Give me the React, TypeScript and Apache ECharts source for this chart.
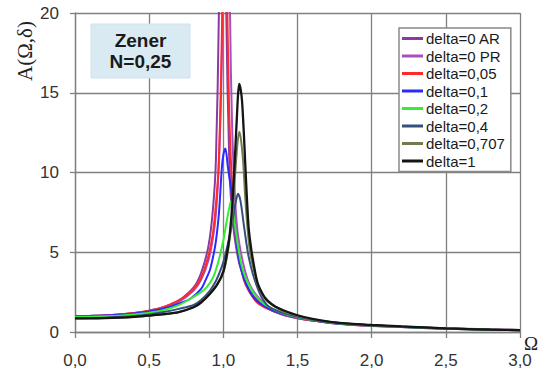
import React, { useEffect, useRef } from "react";
import * as echarts from "echarts";

const legendNames = [
  "delta=0 AR",
  "delta=0 PR",
  "delta=0,05",
  "delta=0,1",
  "delta=0,2",
  "delta=0,4",
  "delta=0,707",
  "delta=1",
];
const colors = ["#8a3aa0", "#a94fc4", "#ff2a2a", "#2a2aff", "#33ee33", "#34507c", "#6f7d4c", "#151515"];

const xTicks = [0, 0.5, 1, 1.5, 2, 2.5, 3];
const yTicks = [0, 5, 10, 15, 20];

const delta0AR: [number, number][] = [
  [0, 1.0], [0.2, 1.04], [0.4, 1.19], [0.5, 1.34], [0.6, 1.57], [0.7, 1.98], [0.8, 2.8], [0.85, 3.7],
  [0.9, 5.4], [0.93, 7.7], [0.95, 10.8], [0.97, 20], [0.98, 33], [0.99, 60], [1.0, 60], [1.01, 34],
  [1.02, 20], [1.04, 10.8], [1.06, 7.3], [1.1, 4.6], [1.15, 3.1], [1.2, 2.3], [1.3, 1.5], [1.4, 1.08],
  [1.5, 0.86], [1.6, 0.72], [1.8, 0.52], [2.0, 0.41], [2.5, 0.22], [3.0, 0.12],
];
const delta0PR: [number, number][] = [
  [0, 1.0], [0.2, 1.04], [0.4, 1.18], [0.5, 1.32], [0.6, 1.53], [0.7, 1.89], [0.8, 2.6], [0.85, 3.27],
  [0.9, 4.5], [0.93, 5.9], [0.95, 7.4], [0.97, 10.5], [0.985, 15], [0.995, 20.3], [1.005, 34],
  [1.015, 60], [1.025, 60], [1.035, 34], [1.045, 20], [1.06, 12.6], [1.08, 8.2], [1.1, 6.0],
  [1.15, 3.7], [1.2, 2.6], [1.3, 1.6], [1.4, 1.13], [1.5, 0.87], [1.6, 0.72], [1.8, 0.52], [2.0, 0.41],
  [2.5, 0.23], [3.0, 0.13],
];
const delta005: [number, number][] = [
  [0, 1.0], [0.1, 1.01], [0.2, 1.04], [0.3, 1.1], [0.4, 1.19], [0.5, 1.33], [0.6, 1.57], [0.7, 1.98],
  [0.73, 2.15], [0.8, 2.7], [0.85, 3.4], [0.9, 4.8], [0.93, 6.2], [0.95, 8.0], [0.966, 10], [0.98, 14],
  [0.993, 20], [1.0, 24], [1.01, 27], [1.02, 24], [1.027, 20], [1.04, 13.5], [1.06, 9.0], [1.08, 6.6],
  [1.1, 5.2], [1.137, 3.3], [1.17, 2.6], [1.228, 1.85], [1.3, 1.45], [1.385, 1.15], [1.5, 0.88],
  [1.6, 0.72], [1.72, 0.56], [1.85, 0.46], [2.0, 0.38], [2.2, 0.31], [2.5, 0.21], [2.8, 0.14], [3.0, 0.11],
];
const delta01: [number, number][] = [
  [0, 1.0], [0.1, 1.01], [0.2, 1.03], [0.3, 1.08], [0.4, 1.16], [0.5, 1.28], [0.6, 1.47], [0.7, 1.78],
  [0.78, 2.1], [0.85, 2.7], [0.88, 3.25], [0.91, 3.9], [0.935, 4.9], [0.95, 5.7], [0.97, 7.4],
  [0.99, 10.3], [1.0, 11.1], [1.014, 11.5], [1.03, 10.4], [1.045, 9.4], [1.06, 8.5], [1.08, 6.6],
  [1.1, 4.9], [1.13, 3.6], [1.17, 2.7], [1.22, 2.0], [1.3, 1.5], [1.4, 1.12], [1.5, 0.9], [1.6, 0.74],
  [1.72, 0.57], [1.85, 0.47], [2.0, 0.39], [2.2, 0.31], [2.5, 0.21], [2.8, 0.14], [3.0, 0.11],
];
const delta02: [number, number][] = [
  [0, 0.95], [0.1, 0.96], [0.2, 0.98], [0.3, 1.02], [0.4, 1.09], [0.5, 1.2], [0.6, 1.38], [0.7, 1.69],
  [0.8, 2.2], [0.85, 2.5], [0.89, 2.83], [0.93, 3.4], [0.957, 4.1], [0.98, 4.9], [1.0, 5.75],
  [1.02, 6.8], [1.04, 7.8], [1.052, 8.2], [1.065, 7.7], [1.08, 6.6], [1.1, 5.3], [1.12, 4.3],
  [1.15, 3.4], [1.2, 2.5], [1.25, 1.95], [1.3, 1.6], [1.4, 1.17], [1.5, 0.93], [1.6, 0.76], [1.72, 0.6],
  [1.85, 0.48], [2.0, 0.4], [2.2, 0.32], [2.5, 0.21], [2.8, 0.14], [3.0, 0.11],
];
const delta04: [number, number][] = [
  [0, 0.87], [0.1, 0.88], [0.2, 0.9], [0.3, 0.94], [0.4, 1.0], [0.5, 1.1], [0.6, 1.25], [0.7, 1.45],
  [0.8, 1.69], [0.85, 2.0], [0.91, 2.6], [0.95, 3.2], [0.99, 4.1], [1.015, 4.9], [1.036, 5.75],
  [1.059, 6.8], [1.081, 8.0], [1.099, 8.67], [1.115, 8.25], [1.137, 6.8], [1.155, 5.6], [1.171, 4.7],
  [1.2, 3.6], [1.228, 2.83], [1.26, 2.15], [1.306, 1.6], [1.4, 1.2], [1.5, 0.96], [1.6, 0.78],
  [1.72, 0.62], [1.85, 0.5], [2.0, 0.42], [2.2, 0.33], [2.5, 0.22], [2.8, 0.15], [3.0, 0.11],
];
const delta0707: [number, number][] = [
  [0, 0.85], [0.1, 0.855], [0.2, 0.87], [0.3, 0.9], [0.4, 0.95], [0.5, 1.03], [0.6, 1.12], [0.7, 1.26],
  [0.8, 1.56], [0.85, 1.87], [0.91, 2.4], [0.96, 3.0], [1.0, 3.7], [1.03, 5.0], [1.045, 6.0],
  [1.06, 7.3], [1.081, 10.1], [1.095, 11.8], [1.108, 12.56], [1.12, 12.0], [1.133, 10.75],
  [1.149, 8.25], [1.165, 6.3], [1.18, 5.0], [1.2, 4.1], [1.23, 3.0], [1.27, 2.25], [1.3, 1.9],
  [1.4, 1.3], [1.5, 1.02], [1.6, 0.8], [1.72, 0.63], [1.85, 0.51], [2.0, 0.43], [2.2, 0.34],
  [2.5, 0.22], [2.8, 0.15], [3.0, 0.11],
];
const delta1: [number, number][] = [
  [0, 0.85], [0.1, 0.855], [0.2, 0.87], [0.3, 0.9], [0.4, 0.95], [0.5, 1.03], [0.6, 1.12], [0.7, 1.25],
  [0.8, 1.55], [0.85, 1.85], [0.91, 2.4], [0.96, 3.0], [1.0, 3.8], [1.03, 5.2], [1.045, 6.3],
  [1.059, 7.8], [1.07, 9.5], [1.081, 11.5], [1.092, 13.6], [1.1, 15], [1.108, 15.56], [1.117, 15.2],
  [1.126, 14.5], [1.138, 12.5], [1.149, 10.3], [1.16, 8.2], [1.171, 6.5], [1.185, 5.4], [1.2, 4.5],
  [1.23, 3.1], [1.27, 2.3], [1.3, 1.95], [1.35, 1.6], [1.43, 1.27], [1.5, 1.05], [1.6, 0.82],
  [1.72, 0.64], [1.85, 0.52], [2.0, 0.44], [2.2, 0.35], [2.5, 0.23], [2.8, 0.15], [3.0, 0.12],
];
const seriesData = [delta0AR, delta0PR, delta005, delta01, delta02, delta04, delta0707, delta1];

const boxLines = ["Zener", "N=0,25"];
const yAxisTitle = "A(Ω,δ)";
const xAxisTitle = "Ω";

export default function App() {
  const ref = useRef<HTMLDivElement>(null);
  useEffect(() => {
    if (!ref.current) return;
    const chart = echarts.init(ref.current, null, { renderer: "svg" });
    const gridColor = "#808080";
    chart.setOption({
      animation: false,
      backgroundColor: "#ffffff",
      grid: { left: 75, top: 13, right: 21, bottom: 41, containLabel: false },
      xAxis: {
        type: "value",
        min: xTicks[0],
        max: xTicks[xTicks.length - 1],
        interval: 0.5,
        axisLine: { show: true, onZero: false, lineStyle: { color: gridColor, width: 1.3 } },
        axisTick: { show: true, length: 6, lineStyle: { color: gridColor, width: 1.3 } },
        splitLine: { show: true, lineStyle: { color: gridColor, width: 1.3 } },
        axisLabel: {
          margin: 20,
          fontFamily: "Liberation Sans, Arial, sans-serif",
          fontSize: 17,
          color: "#333333",
          formatter: (v: number) => v.toFixed(1).replace(".", ","),
        },
      },
      yAxis: {
        type: "value",
        min: yTicks[0],
        max: yTicks[yTicks.length - 1],
        interval: 5,
        axisLine: { show: true, lineStyle: { color: gridColor, width: 1.3 } },
        axisTick: { show: true, length: 5, lineStyle: { color: gridColor, width: 1.3 } },
        splitLine: { show: true, lineStyle: { color: gridColor, width: 1.3 } },
        axisLabel: {
          margin: 16,
          fontFamily: "Liberation Sans, Arial, sans-serif",
          fontSize: 17,
          color: "#333333",
        },
      },
      legend: {
        orient: "vertical",
        left: 399,
        top: 28,
        padding: [3, 6, 3, 3],
        itemGap: 2.5,
        itemWidth: 21,
        itemHeight: 3,
        icon: "rect",
        backgroundColor: "#ffffff",
        borderColor: "#888888",
        borderWidth: 1.5,
        data: legendNames,
        textStyle: {
          fontFamily: "Liberation Sans, Arial, sans-serif",
          fontSize: 15,
          lineHeight: 15,
          color: "#1a1a1a",
          padding: [0, 0, 0, -2],
        },
      },
      series: seriesData.map((d, i) => ({
        type: "line",
        name: legendNames[i],
        data: d,
        showSymbol: false,
        symbol: "none",
        smooth: 0.3,
        clip: true,
        lineStyle: { color: colors[i], width: i === 7 ? 2.3 : 2 },
        itemStyle: { color: colors[i] },
        z: 2 + i,
      })),
      graphic: [
        {
          type: "rect",
          shape: { x: 91, y: 24, width: 99, height: 54 },
          style: { fill: "#d9eaf2", stroke: "#cfe2ea", lineWidth: 1 },
          z: 100,
        },
        {
          type: "text",
          x: 140.5,
          y: 51,
          style: {
            text: boxLines.join("\n"),
            fontFamily: "Liberation Sans, Arial, sans-serif",
            fontWeight: "bold",
            fontSize: 19,
            lineHeight: 21,
            fill: "#1a1a1a",
            align: "center",
            verticalAlign: "middle",
          },
          z: 101,
        },
        {
          type: "text",
          x: 25,
          y: 51,
          rotation: Math.PI / 2,
          style: {
            text: yAxisTitle,
            fontFamily: "Liberation Serif, Times New Roman, serif",
            fontSize: 21,
            fill: "#222222",
            align: "center",
            verticalAlign: "middle",
          },
          z: 101,
        },
        {
          type: "text",
          x: 531,
          y: 343,
          style: {
            text: xAxisTitle,
            fontFamily: "Liberation Serif, Times New Roman, serif",
            fontSize: 19,
            fill: "#222222",
            align: "center",
            verticalAlign: "middle",
          },
          z: 101,
        },
      ],
    });
    return () => chart.dispose();
  }, []);
  return (
    <div
      ref={ref}
      style={{ position: "fixed", left: 0, top: 0, width: 541, height: 373, background: "#fff" }}
    />
  );
}
